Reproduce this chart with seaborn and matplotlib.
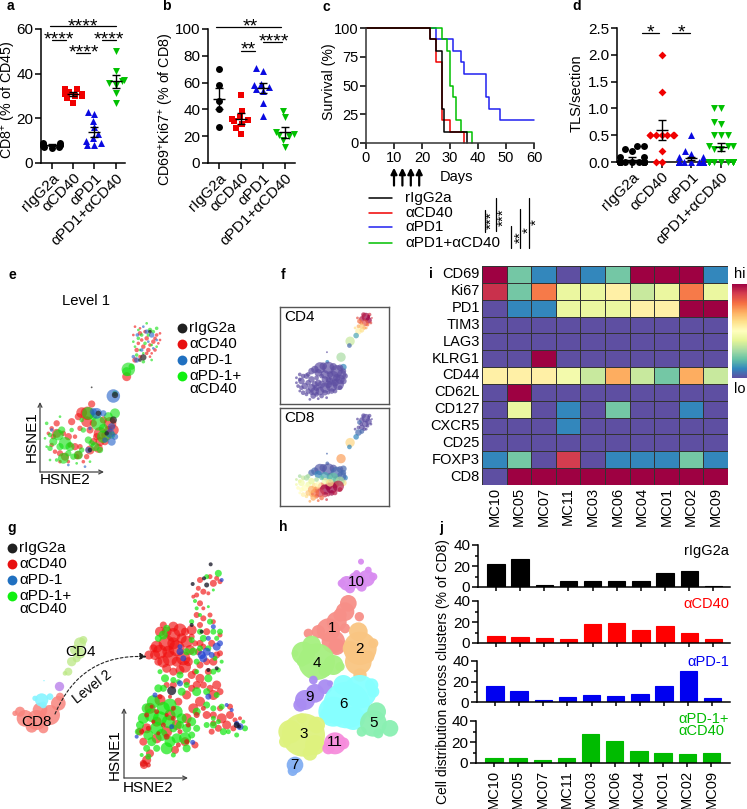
import numpy as np
import pandas as pd
import matplotlib
matplotlib.use("Agg")
import matplotlib.pyplot as plt
import seaborn as sns

W, H = 747, 809
sns.set_style("ticks")
plt.rcParams["font.family"] = ["Liberation Sans", "DejaVu Sans"]
plt.rcParams["mathtext.default"] = "regular"
plt.rcParams["text.color"] = "black"
plt.rcParams["xtick.color"] = "black"
plt.rcParams["ytick.color"] = "black"

# ---- dot plots a, b, d
groups = ["rIgG2a", "αCD40", "αPD1", "αPD1+αCD40"]
colors = ["black", "#f00000", "#0a0ae0", "#00c000"]

a_vals = [[7, 7.5, 8, 8.5, 9, 9, 8, 7, 6.5],
          [27, 29, 30, 31, 32, 33, 33, 31, 30],
          [8, 8, 9, 10, 11, 13, 16, 19, 22, 23],
          [27, 31.5, 35, 36, 36.5, 37, 41, 50]]
a_mean = [8, 31, 14, 36.5]
a_sem = [0.4, 1, 2.2, 2.8]

b_vals = [[27, 40, 46, 58, 70],
          [22, 26, 29, 31, 32, 33, 34, 39, 51],
          [35, 45, 54, 55, 57, 58, 59, 69, 71],
          [12, 17, 20, 21, 22, 23, 34, 39]]
b_mean = [48, 33, 56, 23]
b_sem = [8, 4, 4, 4]

d_vals = [[0] * 14 + [0.1, 0.1, 0.2, 0.25, 0.3, 0.3],
          [0, 0, 0.2, 0.5, 0.5, 0.5, 0.5, 0.5, 0.5, 0.5, 1.3, 2.0],
          [0] * 13 + [0.1, 0.1, 0.15, 0.2, 0.5],
          [0] * 14 + [0.25, 0.25, 0.3, 0.3, 0.3, 0.5, 0.5, 0.5, 0.7, 0.75, 1.0, 1.0]]
d_mean = [0.04, 0.6, 0.07, 0.28]
d_sem = [0.06, 0.19, 0.03, 0.08]

# ---- survival c
c_days = [[0, 25, 31, 34, 35, 43, 44, 48, 60],
          [0, 27, 29, 30, 31, 32, 34, 38],
          [0, 23, 25, 27, 30, 35],
          [0, 23, 25, 27, 28, 36]]
c_surv = [[100, 90, 80, 70, 60, 40, 30, 20, 20],
          [100, 90, 80, 50, 40, 20, 10, 0],
          [100, 90, 70, 20, 10, 0],
          [100, 90, 80, 30, 10, 0]]
c_cols = ["#2020f0", "#00c000", "#f00000", "black"]
dose_days = [10, 13, 16, 19]

# ---- heatmap i
markers = ["CD69", "Ki67", "PD1", "TIM3", "LAG3", "KLRG1", "CD44", "CD62L", "CD127", "CXCR5", "CD25", "FOXP3", "CD8"]
clusters = ["MC10", "MC05", "MC07", "MC11", "MC03", "MC06", "MC04", "MC01", "MC02", "MC09"]
heat = [[1, .22, .1, 0, .1, .22, 1, 1, 1, .1],
        [.92, .22, .78, .42, .42, .55, .35, .42, .78, .42],
        [0, .1, .1, .42, .42, .42, .55, .55, 1, 1],
        [0] * 10,
        [0] * 10,
        [0, 0, 1, 0, 0, 0, 0, 0, 0, 0],
        [.55, .55, .55, .45, .35, .7, .35, .22, .7, .35],
        [0, 1, 0, 0, 0, 0, 0, 0, 0, 0],
        [0, .42, 0, .1, 0, .22, 0, 0, .1, 0],
        [0, 0, 0, .1, 0, 0, 0, 0, 0, 0],
        [0] * 10,
        [.1, .22, 0, .9, 0, .1, .1, .1, .22, .1],
        [0, 1, 1, 1, 1, 1, 1, 1, 1, 1]]

# ---- bars j
j_igg = [21.5, 26.5, 2, 6, 6, 6, 5.5, 13, 15, 1]
j_cd40 = [6.5, 6, 4.5, 3.5, 18.5, 19.5, 12.5, 16.5, 10, 3.5]
j_pd1 = [16, 11, 2, 4.5, 7, 6, 7.5, 16, 30, 4]
j_combo = [4.5, 5, 2.5, 4.5, 27.5, 21, 11, 10, 8.5, 9.5]

# ---- HSNE level 1 (x, y, r)
e_red = [(420,220,5),(440,235,5),(460,245,5),(470,225,4),(430,260,5),(410,270,5),(445,270,5),(465,270,4),(405,200,3),
         (480,240,3),(420,290,4),(450,290,3),(405,300,6),(415,250,4),(450,255,4),(435,215,4),(475,250,3),(425,240,4),
         (455,280,3),(400,225,3),(440,280,4),(465,235,4),(420,205,3),(480,220,3),
         (380,350,10),(275,432,8),(245,458,12),(262,460,15),(260,485,12),
         (300,520,14),(330,490,14),(340,510,12),(320,525,12),(300,545,10),(295,565,10),(215,485,8),(170,490,7),(155,505,5),
         (170,520,10),(205,530,8),(195,590,9),(180,580,7),(240,505,6),(225,560,8),(155,555,5),(270,510,8),(235,585,9),
         (165,575,5),(205,605,4),(250,605,4),(270,570,10),
         (235,470,8),(280,490,8),(310,480,8),(325,510,9),(290,530,8),(280,545,8),(315,545,8),(230,590,6),(160,530,6),(145,520,4),
         (210,555,6),(190,520,6),(225,530,5),(240,560,6),(260,590,6),(180,605,4)]
e_green = [(415,235,4),(450,210,5),(440,190,3),(470,205,4),(435,250,4),(400,245,3),(470,260,3),(455,300,3),(410,285,4),
           (430,305,4),(395,320,7),(425,225,4),(445,225,4),(460,215,4),(405,260,3),(455,255,3),(430,280,3),(420,270,3),(415,210,3),
           (385,328,15),(380,335,10),(345,400,6),(345,460,11),(265,460,14),(295,490,16),(325,470,10),
           (310,530,14),(175,525,12),(195,550,14),(210,560,10),(160,545,9),(185,510,8),(235,585,10),(190,595,12),(150,565,6),
           (140,490,4),(265,540,8),(250,510,6),(220,590,7),(285,560,10),(135,535,3),(150,600,3),(270,605,3),(245,480,5),
           (310,505,10),(335,525,8),(280,470,8),(300,570,7),(275,550,7),(180,560,8),(205,580,7),(170,600,4),(215,510,5),(245,570,6),
           (150,525,5),(230,610,3),(180,470,3),(140,560,3)]
e_blue = [(412,225,4),(455,225,6),(440,215,5),(425,270,4),(410,300,6),(460,265,3),(470,240,3),(445,245,3),(430,200,3),(400,290,4),
          (340,408,15),(290,460,12),(335,545,9),(330,520,10),(335,500,8),(155,510,4),(205,615,3),(255,620,3),(270,505,4),(265,570,7),
          (310,460,7),(345,530,7),(315,540,6),(280,455,8)]
e_dark = [(430,292,7),(450,215,4),(420,300,4),(345,405,7),(275,382,2),(340,480,8),(270,570,5),(320,520,5),(295,460,6)]

# ---- marker expression f (x, y, r, cd4, cd8)
f_pts = [(1097,172,9,1,0),(1105,182,7,1,0),(1085,178,6,.95,0),(1095,190,7,.85,0),(1108,165,4,.9,0),(1078,185,5,.8,.05),
         (1090,165,5,.95,0),(1102,195,4,.8,0),(1072,175,3,.85,0),(1112,190,3,.85,0),(1092,205,4,.7,0),
         (1083,190,4,.8,0),(1075,200,4,.7,0),(1098,205,3,.7,0),(1105,170,3,1,0),(1115,175,2,.9,0),(1065,205,3,.6,0),
         (1085,200,6,.65,0),(1075,215,7,.55,.05),(1085,212,5,.6,.05),(1068,228,6,.15,.1),(1050,245,10,.35,.62),
         (1048,258,5,.05,.1),(1023,293,10,.3,.72),(1030,323,7,.1,.05),(982,307,4,.1,.05),(981,278,2,0,.05),
         (945,330,8,0,.05),(1000,322,8,0,.02),(1020,325,7,0,.03),(970,320,8,0,.02),(935,335,7,0,.05),(1035,350,6,0,.1),
         (1030,365,7,0,.6),(1010,355,8,0,.2),(990,345,7,0,.15),(985,360,6,0,.3),(1005,370,8,0,.8),(985,375,8,0,.95),
         (965,375,8,0,.8),(945,375,7,0,.6),(950,385,7,0,.75),(925,370,6,0,.45),(925,345,5,0,.3),(910,350,5,0,.35),
         (900,360,4,0,.4),(890,370,3,0,.45),(905,385,5,0,.5),(920,405,4,0,.6),(935,400,5,0,.7),(950,405,5,0,.8),
         (975,400,6,0,.9),(995,395,6,0,1),(1020,385,5,0,.95),(900,395,3,0,.5),(930,420,3,0,.7),(955,418,3,0,.8),(980,415,3,0,.9),
         (960,325,12,0,.02),(985,325,13,0,.02),(1010,335,13,0,.05),(1025,345,10,0,.05),(955,340,8,0,.1),(975,345,9,0,.15),
         (1000,350,11,0,.2),(1020,360,10,0,.3),(1015,375,12,0,.95),(995,380,12,0,1),(975,385,11,0,1),(960,395,9,0,.9),
         (945,395,9,0,.8),(935,385,8,0,.7),(955,370,7,0,.5),(975,360,7,0,.45),(990,365,8,0,.6),(935,360,7,0,.4),
         (920,350,6,0,.3),(905,365,7,0,.45),(915,380,7,0,.5),(925,395,6,0,.65),(940,410,6,0,.7),(965,410,5,0,.8),
         (900,345,4,0,.3),(890,355,3,0,.35),(895,380,4,0,.5),(910,400,5,0,.55),(985,400,4,0,.95),(1005,395,5,0,.95),
         (950,355,5,0,.3),(1030,335,6,0,.05),(965,350,5,0,.2)]

# ---- HSNE level 2 (x, y, r)
g_red = [(520,360,14),(500,385,16),(480,410,14),(470,395,12),(530,400,16),(550,430,14),(510,430,15),(490,440,12),(540,345,13),
         (560,380,12),(520,335,10),(555,455,12),(447,420,9),(575,345,10),(600,330,6),(590,300,6),(610,310,6),(600,265,6),
         (620,350,7),(595,410,7),(640,440,8),(625,470,7),(600,490,9),(575,480,8),(610,230,6),(640,205,7),(600,195,6),
         (660,200,5),(590,240,5),(450,580,11),(480,555,11),(510,600,11),(470,620,10),(440,640,10),(420,650,8),(500,650,11),
         (530,630,10),(560,610,10),(580,580,10),(600,560,10),(620,600,8),(640,540,10),(650,510,9),(470,670,10),(430,680,8),
         (525,705,8),(555,680,9),(585,690,7),(440,735,9),(432,750,8),(450,715,8),(665,610,10),(690,600,8),(680,630,9),
         (655,640,7),(700,640,6),(640,625,6),(560,540,9),(535,560,8),(590,510,8),
         (480,350,10),(465,420,10),(500,350,10),(520,385,12),(545,370,10),(570,405,10),(530,440,10),(500,460,9),(475,440,8),
         (540,465,9),(565,440,9),(520,470,8),(460,400,8),(555,350,8),(505,410,12),(490,330,7),(600,385,7),(635,385,7),(610,395,6),
         (650,420,7),(660,415,6),(585,385,6),(630,300,5),(640,320,5),(575,365,6),(620,440,7),(600,450,7),(585,470,6),(660,360,5),
         (610,280,4),(580,245,4),(625,235,4),(595,220,5),(650,190,5),(630,185,5),(560,500,7),(610,510,7),(630,520,7),(575,520,7),
         (520,510,7),(500,510,6),(660,530,7),(690,575,6),(660,580,6),(640,600,7),(635,650,6),(705,615,5),(720,610,4)]
g_green = [(490,360,9),(475,370,7),(580,410,8),(560,410,7),(630,320,6),(660,350,6),(610,370,7),(640,350,6),(575,320,5),
           (600,350,6),(495,490,8),(540,480,7),(625,490,8),(655,465,5),(590,440,6),(655,175,7),(620,185,5),(590,280,4),
           (645,430,5),(500,340,7),(460,560,13),(490,580,13),(430,610,11),(455,600,14),(480,610,14),(510,570,13),(530,590,12),
           (505,620,13),(470,640,13),(445,660,10),(485,660,12),(510,680,11),(500,700,12),(455,680,9),(530,670,10),(420,630,8),
           (560,640,9),(575,620,9),(555,670,12),(560,700,8),(590,590,8),(620,570,7),(640,630,7),(620,630,6),(735,640,6),
           (685,650,5),(670,650,7),(445,725,6),(545,610,10),(475,520,8),(590,530,9),(620,530,7),(545,530,8),
           (600,400,6),(575,375,6),(625,400,6),(650,370,5),(665,440,4),(480,470,5),(520,495,6),(560,510,6),(590,470,5),(640,470,6),
           (600,300,4),(625,275,3),(585,258,4),(640,225,3),(490,520,7),(535,500,5),(650,540,6),(640,580,6),(665,575,6),(710,660,5),
           (730,620,4),(640,610,5),(655,620,5),(440,580,10),(415,650,7),(440,700,7),(425,720,4),(520,640,8),(540,630,8),(575,660,7),
           (590,640,7),(520,720,5),(470,700,7)]
g_red2 = [(470,590,5),(520,610,5),(445,640,5),(500,665,6),(540,650,5),(565,630,5),(455,575,4),(490,630,5),(425,650,5),
          (520,580,5),(590,600,6),(430,745,7),(445,750,5),(480,545,5),(560,680,5),(535,690,5),(475,655,4),(610,580,5),
          (510,545,4),(500,600,4),(440,600,5),(460,620,4)]
g_blue = [(540,410,7),(550,430,6),(540,395,5),(605,420,8),(620,410,8),(650,395,8),(660,385,6),(640,335,5),(625,370,5),
          (610,430,8),(635,420,6),(540,505,6),(625,545,6),(465,540,5),(515,635,5),(410,665,4),(578,682,5),(680,570,4),
          (695,585,4),(665,195,4),(720,635,7),(710,625,5)]
g_dark = [(710,630,6),(515,527,9),(620,210,5),(578,207,4),(612,190,4),(605,350,4),(650,460,4),(575,330,4),(625,465,4),
          (718,635,4),(632,148,4)]
g_cd8 = [(75,610,25),(110,615,30),(150,600,30),(175,565,22),(60,590,15),(95,635,18),(130,640,15),(45,595,8),(180,545,12),(120,585,22)]
g_cyan = [(125,555,20),(105,550,8),(150,545,10),(130,570,10),(132,497,2)]
g_purple = [(177,514,14)]
g_cd4 = [(240,385,18),(250,375,12),(225,405,15),(240,415,16),(215,440,14),(205,470,12),(195,475,7),(230,430,12)]

# ---- clusters h
h_clusters = {
    "10": ("#d88cf0", (1068,200), [(1040,205,22),(1070,195,25),(1100,190,25),(1120,185,12),(1050,220,15),(1085,215,15),(1025,205,12),(1105,165,10),(1083,140,9),(1070,175,10)]),
    "1": ("#f78f88", (997,340), [(1045,265,25),(1035,290,28),(1010,320,30),(985,345,35),(1000,380,35),(1010,395,25),(955,350,20),(925,355,14),(1078,305,14),(1035,340,15),(1020,300,20)]),
    "2": ("#f9c582", (1080,402), [(1075,350,28),(1080,400,50),(1075,440,40),(1080,480,20),(1120,385,15),(1050,400,22),(1105,425,18)]),
    "4": ("#a6f080", (950,443), [(950,440,55),(910,415,35),(935,390,28),(1000,450,30),(975,465,20),(885,415,10),(905,440,15),(1020,455,14)]),
    "9": ("#a98cf2", (928,546), [(915,555,30),(945,535,28),(975,515,22),(900,570,20),(940,495,13),(990,505,9)]),
    "6": ("#86ffff", (1032,567), [(1040,570,70),(1000,590,45),(1080,530,50),(1030,510,30),(1115,510,20),(1060,610,35),(1120,530,18),(985,600,25)]),
    "5": ("#8af0b2", (1122,624), [(1120,625,40),(1130,590,28),(1170,640,25),(1085,650,15),(1135,655,15)]),
    "3": ("#def27e", (910,658), [(910,660,65),(870,650,35),(945,690,30),(930,715,22),(950,630,25),(855,680,18),(905,610,15)]),
    "11": ("#f68cdc", (1005,682), [(1005,685,33),(985,700,18),(1030,685,18)]),
    "7": ("#82aef2", (883,750), [(885,750,25),(878,768,15)]),
}

fig = plt.figure(figsize=(W / 100, H / 100), dpi=100)


def box(l, t, r, b):
    return fig.add_axes([l / W, 1 - b / H, (r - l) / W, (b - t) / H])


def spots(ax, pts, color, alpha=0.6, k=1.0):
    df = pd.DataFrame(pts, columns=["hsne2", "hsne1", "r"])
    sns.scatterplot(data=df, x="hsne2", y="hsne1", s=(df["r"] * k * 0.48) ** 2, color=color,
                    alpha=alpha, linewidth=0, ax=ax, legend=False)


def dotplot(ax, vals, means, sems, marks, sizes, ymax, yticks, right):
    rows = [(groups[i], v) for i in range(4) for v in vals[i]]
    df = pd.DataFrame(rows, columns=["group", "value"])
    for i, g in enumerate(groups):
        sns.swarmplot(data=df[df["group"] == g], x="group", y="value", order=groups, color=colors[i],
                      marker=marks[i], size=sizes[i], ax=ax, warn_thresh=1, clip_on=False)
    ax.errorbar(range(4), means, yerr=sems, fmt="_", color="black", ms=9, mew=1, capsize=3, elinewidth=1, zorder=6)
    ax.set_xlim(-0.5, right)
    ax.set_ylim(0, ymax)
    ax.set_yticks(yticks)
    ax.set_xticks(range(4))
    ax.set_xticklabels(groups, rotation=45, ha="right", rotation_mode="anchor", fontsize=11)
    ax.tick_params(axis="y", labelsize=11, length=4, width=1.1, pad=1.5)
    ax.tick_params(axis="x", length=4, width=1.1, pad=1.5)
    ax.set_xlabel("")
    ax.set_ylabel("")
    sns.despine(ax=ax)
    for s in ["left", "bottom"]:
        ax.spines[s].set_linewidth(1.1)
        ax.spines[s].set_color("black")
    ax.patch.set_alpha(0)


# a, b, d
ax_a = box(41, 29, 125, 163)
dotplot(ax_a, a_vals, a_mean, a_sem, ["o", "s", "^", "v"], [5, 5, 5, 5], 60, [0, 20, 40, 60], 3.43)
ax_b = box(208, 29, 295, 163)
dotplot(ax_b, b_vals, b_mean, b_sem, ["o", "s", "^", "v"], [5, 5, 5, 5], 100, [0, 20, 40, 60, 80, 100], 3.45)
ax_d = box(617, 28, 733, 162)
dotplot(ax_d, d_vals, d_mean, d_sem, ["o", "D", "^", "v"], [5, 4, 5, 5], 2.5, [0, .5, 1, 1.5, 2, 2.5], 3.4)
ax_d.set_yticklabels(["0.0", "0.5", "1.0", "1.5", "2.0", "2.5"])

# c
ax_c = box(366, 28, 534, 143)
for dd, ss, cc in zip(c_days, c_surv, c_cols):
    sns.lineplot(x=dd, y=ss, drawstyle="steps-post", color=cc, lw=1.1, ax=ax_c, errorbar=None, estimator=None, clip_on=False)
ax_c.set_xlim(0, 60)
ax_c.set_ylim(0, 100)
ax_c.set_xticks(range(0, 61, 10))
ax_c.set_yticks([0, 25, 50, 75, 100])
ax_c.tick_params(labelsize=10.5, length=4, width=1.1, pad=1.5)
sns.despine(ax=ax_c)
for s in ["left", "bottom"]:
    ax_c.spines[s].set_linewidth(1.1)
    ax_c.spines[s].set_color("#333333")
for d in dose_days:
    ax_c.annotate("", xy=(d, -21.5), xytext=(d, -37), annotation_clip=False,
                  arrowprops=dict(arrowstyle="-|>", color="black", lw=1.6, mutation_scale=9, shrinkA=0, shrinkB=0))

# e
ax_e = box(0, 260, 280, 490)
spots(ax_e, e_red, "#f01010", 0.6, 1.35)
spots(ax_e, e_green, "#10e010", 0.6, 1.35)
spots(ax_e, e_blue, "#2060c8", 0.6, 1.35)
spots(ax_e, e_dark, "#202020", 0.7, 1.35)
ax_e.set_xlim(0, 840)
ax_e.set_ylim(690, 0)
ax_e.axis("off")

# f
for name, t, b in [("CD4", 307, 404), ("CD8", 408, 506)]:
    ax_f = box(280, t, 389, b)
    df_f = pd.DataFrame(f_pts, columns=["x", "y", "r", "CD4", "CD8"])
    sns.scatterplot(data=df_f, x="x", y="y", hue=name, palette="Spectral_r", hue_norm=(0, 1),
                    s=(df_f["r"] * 1.4 * 0.48) ** 2, alpha=0.7, linewidth=0, ax=ax_f, legend=False)
    ax_f.set_xlim(841, 1166)
    ax_f.set_ylim(434, 142)
    ax_f.set_xticks([])
    ax_f.set_yticks([])
    ax_f.set_xlabel("")
    ax_f.set_ylabel("")
    for s in ax_f.spines.values():
        s.set_color("#555555")
        s.set_linewidth(1)
    ax_f.text(855, 172, name, fontsize=11, va="center")

# g, h
ax_g = box(0, 515, 420, 809)
spots(ax_g, g_cd8, "#f8857e", 0.85)
spots(ax_g, g_cyan, "#86f4ff", 0.9)
spots(ax_g, g_purple, "#b070e8", 0.7)
spots(ax_g, g_cd4, "#bbe884", 0.75)
spots(ax_g, g_red, "#f01010", 0.65, 1.5)
spots(ax_g, g_green, "#10e810", 0.7, 1.5)
spots(ax_g, g_red2, "#e01010", 0.7, 1.5)
spots(ax_g, g_blue, "#2040d0", 0.7, 1.5)
spots(ax_g, g_dark, "#101020", 0.75, 1.5)
for lab, (col, xy, pts) in h_clusters.items():
    spots(ax_g, pts, col, 0.95)
    ax_g.text(xy[0], xy[1], lab, fontsize=11, ha="center", va="center", zorder=8)
ax_g.annotate("", xy=(440, 425), xytext=(165, 597),
              arrowprops=dict(arrowstyle="-|>", ls=(0, (2.5, 2)), lw=0.8, color="#222222",
                              connectionstyle="arc3,rad=-0.35", shrinkA=0, shrinkB=0))
ax_g.text(108, 620, "CD8", fontsize=11, ha="center", va="center")
ax_g.text(243, 410, "CD4", fontsize=11, ha="center", va="center")
ax_g.text(277, 517, "Level 2", fontsize=10, rotation=38, ha="center", va="center")
ax_g.set_xlim(0, 1260)
ax_g.set_ylim(882, 0)
ax_g.axis("off")

# i
ax_i = box(482, 266, 728, 485)
ax_cb = box(732, 284, 747, 378)
sns.heatmap(pd.DataFrame(heat, index=markers, columns=clusters), cmap="Spectral_r", vmin=0, vmax=1, linewidths=0.5,
            linecolor="#333333", ax=ax_i, cbar_ax=ax_cb, cbar_kws=dict(ticks=[]))
ax_i.collections[0].colorbar.outline.set_visible(False)
ax_i.tick_params(length=0, labelsize=10.5, pad=1.5)
ax_i.set_xticklabels(clusters, rotation=90)
ax_i.set_yticklabels(markers, rotation=0)

# j
j_rows = [(j_igg, "black", 545, 587, 478, 496), (j_cd40, "#ff0000", 601, 643, 478, 496),
          (j_pd1, "#0000f0", 661, 702, 477, 495), (j_combo, "#00bb00", 721, 763, 476, 494)]
for n, (vals, cc, t, b, l, c0) in enumerate(j_rows):
    ax_j = box(l, t, 730, b)
    sns.barplot(x=clusters, y=vals, color=cc, saturation=1, width=0.72, edgecolor=cc, linewidth=0.8, ax=ax_j)
    ax_j.set_xlim((l - c0) / 24.15, (730 - c0) / 24.15)
    ax_j.set_ylim(0, 40)
    ax_j.set_yticks([0, 20, 40])
    ax_j.set_yticks([10, 30], minor=True)
    ax_j.tick_params(axis="y", labelsize=11, length=4, width=1.1, pad=1.5)
    ax_j.tick_params(axis="y", which="minor", length=2.5, width=1.1)
    ax_j.tick_params(axis="x", length=3, width=1.1, labelsize=10.5, pad=2)
    if n < 3:
        ax_j.set_xticklabels([])
    else:
        ax_j.set_xticklabels(clusters, rotation=90)
    sns.despine(ax=ax_j)
    for s in ["left", "bottom"]:
        ax_j.spines[s].set_linewidth(1.1)
        ax_j.spines[s].set_color("black")

# overlay for annotations
ov = fig.add_axes([0, 0, 1, 1], zorder=20)
ov.set_xlim(0, W)
ov.set_ylim(H, 0)
ov.axis("off")

for lab, x, y in [("a", 10, 6), ("b", 166, 6), ("c", 326, 7), ("d", 577, 6), ("e", 12, 275), ("f", 283, 275),
                  ("g", 12, 528), ("h", 283, 527), ("i", 431, 274), ("j", 441, 528)]:
    ov.text(x, y, lab, fontsize=10, fontweight="bold", ha="center", va="center")

for lab, x, y, fs in [("CD8$^{+}$ (% of CD45)", 8, 100, 10.3), ("CD69$^{+}$Ki67$^{+}$ (% of CD8)", 166, 109, 10.3),
                      ("Survival (%)", 329, 82, 10.2), ("TLS/section", 577, 93, 10.5),
                      ("Cell distribution across clusters (% of CD8)", 443, 672, 10)]:
    ov.text(x, y, lab, fontsize=fs, rotation=90, ha="center", va="center")


def sig(x0, x1, y, stars, sx, sy):
    ov.plot([x0, x1], [y, y], color="black", lw=0.9)
    ov.text(sx, sy + 5, stars, fontsize=14, ha="center", va="center")


sig(50, 116, 26, "****", 83, 22)
sig(52, 66, 40, "****", 59, 35)
sig(76, 90, 53, "****", 84, 48)
sig(102, 116, 40, "****", 109, 35)
sig(216, 281, 27, "**", 250, 22)
sig(241, 255, 51, "**", 248, 45)
sig(263, 282, 42, "****", 274, 37)
sig(642, 659, 33, "*", 650, 28)
sig(672, 690, 33, "*", 681, 28)

# c legend
ov.text(440, 177, "Days", fontsize=10.5, va="center")
for lab, cc, y in zip(groups, ["black", "#f00000", "#2020f0", "#00c000"], [198, 213, 227, 243]):
    ov.plot([369, 392], [y, y], color=cc, lw=1.1)
    ov.text(405, y, lab, fontsize=11, va="center")
for x, t, b, st, sx, sy in [(485, 210, 232, "***", 488, 220), (496, 198, 231, "***", 500, 217), (511, 226, 248, "**", 517, 237),
                            (520, 209, 248, "*", 525, 230), (529, 198, 248, "*", 533, 222)]:
    ov.plot([x, x], [t, b], color="black", lw=0.9)
    ov.text(sx + 4, sy, st, fontsize=11, rotation=90, ha="center", va="center")

# treatment legends
treat = ["rIgG2a", "αCD40", "αPD-1", "αPD-1+"]
treat_cols = ["#202020", "#e81010", "#2070c0", "#10f010"]
for i in range(4):
    ov.scatter([182], [328 + i * 16], s=50, color=treat_cols[i], linewidth=0)
    ov.text(189, 328 + i * 16, treat[i], fontsize=11, va="center")
    ov.scatter([12], [548 + i * 16], s=50, color=treat_cols[i], linewidth=0)
    ov.text(19, 548 + i * 16, treat[i], fontsize=11, va="center")
ov.text(189, 389, "αCD40", fontsize=11, va="center")
ov.text(19, 609, "αCD40", fontsize=11, va="center")
ov.text(86, 301, "Level 1", fontsize=10.7, ha="center", va="center")


def hsne_axes(x0, y0, top, right, lx, ly, ux, uy):
    for xy in [(x0, top), (right, y0)]:
        ov.annotate("", xy=xy, xytext=(x0, y0),
                    arrowprops=dict(arrowstyle="->", color="#444444", lw=0.9, shrinkA=0, shrinkB=0, mutation_scale=7))
    ov.text(lx, ly, "HSNE2", fontsize=11, ha="center", va="center")
    ov.text(ux, uy, "HSNE1", fontsize=11, rotation=90, ha="center", va="center")


hsne_axes(40, 472, 402, 104, 65, 480, 32, 437)
hsne_axes(124, 778, 708, 188, 148, 788, 115, 755)

# heat scale and j labels
ov.text(740, 274, "hi", fontsize=10.5, ha="center", va="center")
ov.text(740, 389, "lo", fontsize=10.5, ha="center", va="center")
for lab, cc, y in [("rIgG2a", "black", 551), ("αCD40", "#ff0000", 604), ("αPD-1", "#0000f0", 662)]:
    ov.text(729, y, lab, fontsize=10.5, color=cc, ha="right", va="center")
ov.text(729, 725, "αPD-1+\nαCD40", fontsize=10.5, color="#00bb00", ha="right", va="center", ma="left", linespacing=0.85)

fig.savefig("out.png", dpi=100)
